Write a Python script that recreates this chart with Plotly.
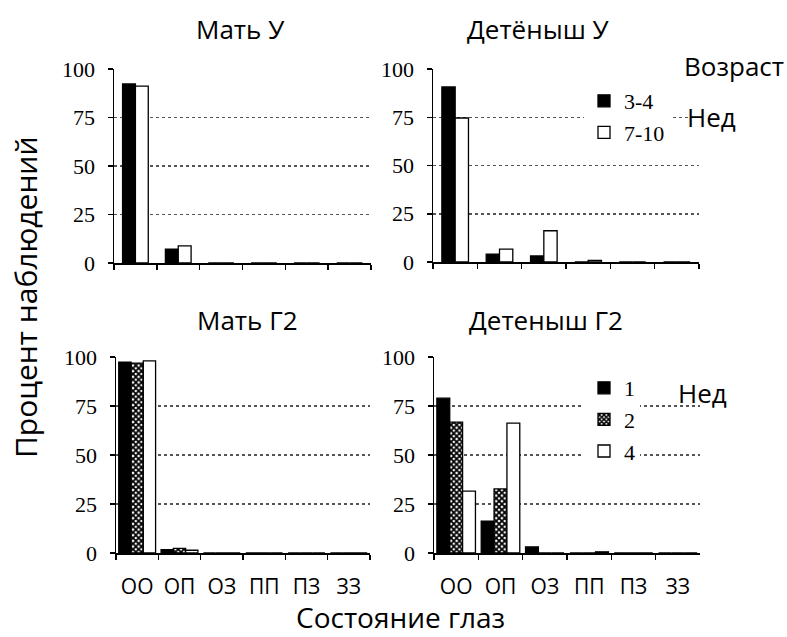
import plotly.graph_objects as go

# ---- data ----
states = ["ОО", "ОП", "ОЗ", "ПП", "ПЗ", "ЗЗ"]
y_ticks = [0, 25, 50, 75, 100]
grid_vals = [25, 50, 75]

mother_u_34 = [92.3, 7.2, 0, 0, 0, 0]
mother_u_710 = [91.2, 8.8, 0, 0, 0, 0]
cub_u_34 = [90.7, 4.1, 3.1, 0, 0, 0]
cub_u_710 = [74.6, 6.7, 16.2, 0.8, 0, 0]

mother_g2_w1 = [97.4, 1.7, 0, 0, 0, 0]
mother_g2_w2 = [96.9, 2.4, 0, 0, 0, 0]
mother_g2_w4 = [98.0, 1.4, 0, 0, 0, 0]
cub_g2_w1 = [79.0, 16.3, 3.1, 0, 0, 0]
cub_g2_w2 = [66.8, 32.7, 0, 0, 0, 0]
cub_g2_w4 = [31.6, 66.3, 0, 0.6, 0, 0]

age_u = ["3-4", "7-10"]
age_g2 = ["1", "2", "4"]
panel_titles = ["Мать У", "Детёныш У", "Мать Г2", "Детеныш Г2"]
side_texts = ["Возраст", "Нед", "Нед"]
y_title = "Процент наблюдений"
x_title = "Состояние глаз"

# ---- styles ----
SANS = "Open Sans"
SERIF = "Liberation Serif"
outline = dict(color="black", width=1.3)
st_black = dict(color="black", line=outline)
st_white = dict(color="white", line=outline)
st_check = dict(color="black", line=outline,
                pattern=dict(shape="x", fgcolor="black", bgcolor="white",
                             size=4, solidity=0.7, fillmode="replace"))

fig = go.Figure()

def add_bar(vals, name, style, xa, ya, offset, width, legend=None):
    fig.add_trace(go.Bar(
        x=states, y=vals, name=name, marker=style,
        xaxis=xa, yaxis=ya, offset=offset, width=width,
        showlegend=legend is not None, legend=legend or "legend",
        hoverinfo="skip",
    ))

# top-left: Мать У
add_bar(mother_u_34, age_u[0], st_black, "x", "y", -0.3, 0.3)
add_bar(mother_u_710, age_u[1], st_white, "x", "y", 0.0, 0.3)
# top-right: Детёныш У
add_bar(cub_u_34, age_u[0], st_black, "x2", "y2", -0.3, 0.3, "legend")
add_bar(cub_u_710, age_u[1], st_white, "x2", "y2", 0.0, 0.3, "legend")
# bottom-left: Мать Г2
add_bar(mother_g2_w1, age_g2[0], st_black, "x3", "y3", -0.435, 0.29)
add_bar(mother_g2_w2, age_g2[1], st_check, "x3", "y3", -0.145, 0.29)
add_bar(mother_g2_w4, age_g2[2], st_white, "x3", "y3", 0.145, 0.29)
# bottom-right: Детеныш Г2
add_bar(cub_g2_w1, age_g2[0], st_black, "x4", "y4", -0.435, 0.29, "legend2")
add_bar(cub_g2_w2, age_g2[1], st_check, "x4", "y4", -0.145, 0.29, "legend2")
add_bar(cub_g2_w4, age_g2[2], st_white, "x4", "y4", 0.145, 0.29, "legend2")

W, H = 787, 637
def px_x(a, b):
    return [a / W, b / W]
def px_y(top, bottom):
    return [1 - bottom / H, 1 - top / H]

x_dom = {1: px_x(114, 371), 2: px_x(433, 699), 3: px_x(116, 370), 4: px_x(434, 700)}
y_dom = {1: px_y(69, 263), 2: px_y(69, 262), 3: px_y(357, 553), 4: px_y(357, 553)}

layout = dict(
    width=W, height=H,
    margin=dict(l=0, r=0, t=0, b=0, pad=0, autoexpand=False),
    paper_bgcolor="white", plot_bgcolor="white",
    barmode="overlay",
    showlegend=True,
)

for i in range(1, 5):
    xs = "xaxis" if i == 1 else f"xaxis{i}"
    ys = "yaxis" if i == 1 else f"yaxis{i}"
    bottom = i >= 3
    layout[xs] = dict(
        domain=x_dom[i], anchor="y" if i == 1 else f"y{i}",
        type="category", categoryorder="array", categoryarray=states,
        range=[-0.5, 5.5], tickson="boundaries",
        ticks="outside", ticklen=5, tickwidth=1.5, tickcolor="black",
        showline=True, linecolor="black", linewidth=1.5,
        showgrid=False, zeroline=False, automargin=False,
        showticklabels=bottom,
        tickfont=dict(family=SANS, size=21, color="black"),
        ticklabelstandoff=14,
        fixedrange=True,
    )
    layout[ys] = dict(
        domain=y_dom[i], anchor="x" if i == 1 else f"x{i}",
        range=[0, 100], tickmode="array", tickvals=y_ticks,
        ticks="outside", ticklen=5, tickwidth=1.5, tickcolor="black",
        showline=True, linecolor="black", linewidth=1.5,
        showgrid=False, zeroline=False, automargin=False,
        minor=dict(tickmode="array", tickvals=grid_vals, showgrid=True,
                   gridcolor="#555555", gridwidth=1.5, griddash="dot", ticks=""),
        tickfont=dict(family=SERIF, size=22, color="black"),
        ticklabelstandoff=8,
        fixedrange=True,
    )

legend_common = dict(
    bgcolor="white", borderwidth=0,
    font=dict(family=SERIF, size=22, color="black"),
    xanchor="left", yanchor="top", tracegroupgap=0,
    itemclick=False, itemdoubleclick=False,
)
layout["legend"] = dict(legend_common, x=584 / W, y=1 - 80 / H)
layout["legend2"] = dict(legend_common, x=584 / W, y=1 - 367 / H)

ann = []
title_pos = [(240, 29), (538, 29), (247, 320), (546, 320)]
for t, (cx, cy) in zip(panel_titles, title_pos):
    ann.append(dict(text=t, x=cx / W, y=1 - cy / H, xref="paper", yref="paper",
                    showarrow=False, xanchor="center", yanchor="middle",
                    font=dict(family=SANS, size=26, color="black")))
side_pos = [(734, 66), (711, 117), (702, 393)]
for t, (cx, cy) in zip(side_texts, side_pos):
    ann.append(dict(text=t, x=cx / W, y=1 - cy / H, xref="paper", yref="paper",
                    showarrow=False, xanchor="center", yanchor="middle",
                    font=dict(family=SANS, size=26, color="black")))
ann.append(dict(text=y_title, x=25 / W, y=1 - 297 / H, xref="paper", yref="paper",
                showarrow=False, textangle=-90, xanchor="center", yanchor="middle",
                font=dict(family=SANS, size=30, color="black")))
ann.append(dict(text=x_title, x=400 / W, y=0, xref="paper", yref="paper",
                showarrow=False, xanchor="center", yanchor="bottom", borderpad=0,
                font=dict(family=SANS, size=28, color="black")))
layout["annotations"] = ann

fig.update_layout(**layout)
fig.write_html(
    "out.html",
    config={"displayModeBar": False, "staticPlot": True},
    post_script="document.body.style.margin='0';document.body.style.padding='0';"
                "document.documentElement.style.overflow='hidden';",
)
